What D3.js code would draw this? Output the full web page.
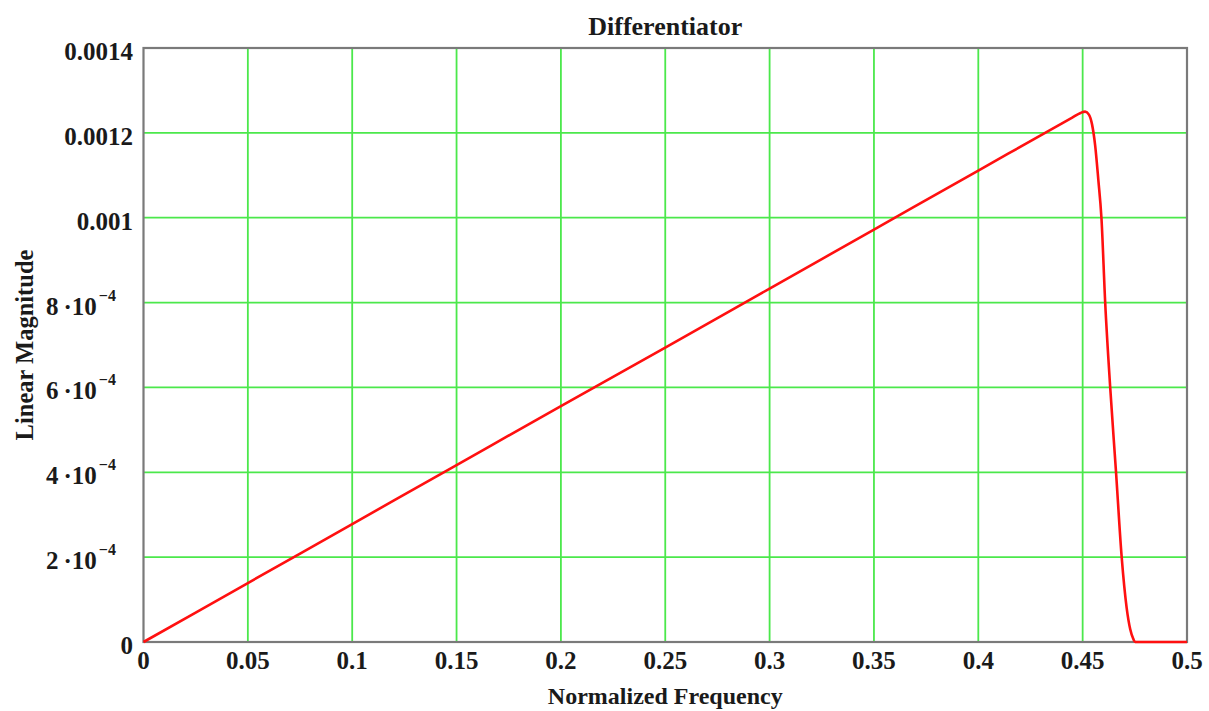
<!DOCTYPE html>
<html>
<head>
<meta charset="utf-8">
<script src="https://cdn.jsdelivr.net/npm/d3@7"></script>
<style>
  html, body { margin: 0; padding: 0; background: #fff; }
  svg { display: block; }
  text { font-family: "Liberation Serif", "Times New Roman", serif; fill: #1a1a1a; }
</style>
</head>
<body>
<script>
// ---- data ----
const freq = [0, 0.05, 0.1, 0.15, 0.2, 0.25, 0.3, 0.35, 0.4, 0.445, 0.449, 0.4512, 0.453, 0.4545, 0.456, 0.4575,
              0.459, 0.4608, 0.4632, 0.466, 0.4687, 0.4711, 0.4728, 0.4742, 0.4751, 0.48, 0.49, 0.5];
const magnitude = [0, 0.000139, 0.000278, 0.000417, 0.000556, 0.000694, 0.000833, 0.000972, 0.001111, 0.001236,
                   0.001247, 0.00125, 0.001243, 0.00122, 0.00117, 0.00109, 0.001, 0.0008, 0.0006, 0.0004, 0.0002,
                   0.00008, 0.00003, 0.000008, 0, 0, 0, 0];
const xTicks = [0, 0.05, 0.1, 0.15, 0.2, 0.25, 0.3, 0.35, 0.4, 0.45, 0.5];
const xTickLabels = ["0", "0.05", "0.1", "0.15", "0.2", "0.25", "0.3", "0.35", "0.4", "0.45", "0.5"];
const yTicks = [0, 0.0002, 0.0004, 0.0006, 0.0008, 0.001, 0.0012, 0.0014];
const yTickBase = ["0", "2\u202F\u00B710", "4\u202F\u00B710", "6\u202F\u00B710", "8\u202F\u00B710", "0.001", "0.0012", "0.0014"];
const yTickExp = ["", "\u22124", "\u22124", "\u22124", "\u22124", "", "", ""];
const title = "Differentiator";
const xLabel = "Normalized Frequency";
const yLabel = "Linear Magnitude";

// ---- layout ----
const W = 1209, H = 711;
const L = 143.5, R = 1187, T = 48, B = 642;

const svg = d3.select("body").append("svg").attr("width", W).attr("height", H);

const x = d3.scaleLinear().domain([0, 0.5]).range([L, R]);
const y = d3.scaleLinear().domain([0, 0.0014]).range([B, T]);

const gridColor = "#4be84b";

// vertical gridlines
svg.append("g").selectAll("line").data(xTicks.filter(d => d > 0 && d < 0.5)).join("line")
  .attr("x1", d => x(d)).attr("x2", d => x(d)).attr("y1", T).attr("y2", B)
  .attr("stroke", gridColor).attr("stroke-width", 1.8);
// horizontal gridlines
svg.append("g").selectAll("line").data(yTicks.filter(d => d > 0 && d < 0.0014)).join("line")
  .attr("x1", L).attr("x2", R).attr("y1", d => y(d)).attr("y2", d => y(d))
  .attr("stroke", gridColor).attr("stroke-width", 1.8);

// frame
svg.append("rect").attr("x", L).attr("y", T).attr("width", R - L).attr("height", B - T)
  .attr("fill", "none").attr("stroke", "#7a7a7a").attr("stroke-width", 2.2);

// data line
const line = d3.line().x((d, i) => x(freq[i])).y(d => y(d)).curve(d3.curveMonotoneX);
svg.append("path").datum(magnitude).attr("d", line)
  .attr("fill", "none").attr("stroke", "#ff1010").attr("stroke-width", 2.6).attr("stroke-linejoin", "round");

// x tick labels
svg.append("g").selectAll("text").data(xTicks).join("text")
  .attr("x", d => x(d)).attr("y", 669)
  .attr("text-anchor", "middle").attr("font-size", 25).attr("font-weight", "bold")
  .text((d, i) => xTickLabels[i]);

// y tick labels
const yl = svg.append("g").selectAll("text").data(yTicks).join("text")
  .attr("x", 133)
  .attr("y", d => y(d) + 12)
  .attr("text-anchor", "end").attr("font-size", 25).attr("font-weight", "bold");
yl.append("tspan").text((d, i) => yTickBase[i]);
yl.filter((d, i) => yTickExp[i]).append("tspan")
  .attr("dx", 2).attr("dy", -14).attr("font-size", 16)
  .text((d, i, n) => "\u22124");
yl.filter((d, i) => yTickExp[i]).attr("text-anchor", "start").attr("x", 46);

// title
svg.append("text").attr("x", (L + R) / 2).attr("y", 35).attr("text-anchor", "middle")
  .attr("font-size", 26).attr("font-weight", "bold").text(title);
// x label
svg.append("text").attr("x", (L + R) / 2).attr("y", 704).attr("text-anchor", "middle")
  .attr("font-size", 24).attr("font-weight", "bold").text(xLabel);
// y label
svg.append("text").attr("transform", `translate(33,${(T + B) / 2}) rotate(-90)`).attr("text-anchor", "middle")
  .attr("font-size", 24.5).attr("font-weight", "bold").text(yLabel);
</script>
</body>
</html>
